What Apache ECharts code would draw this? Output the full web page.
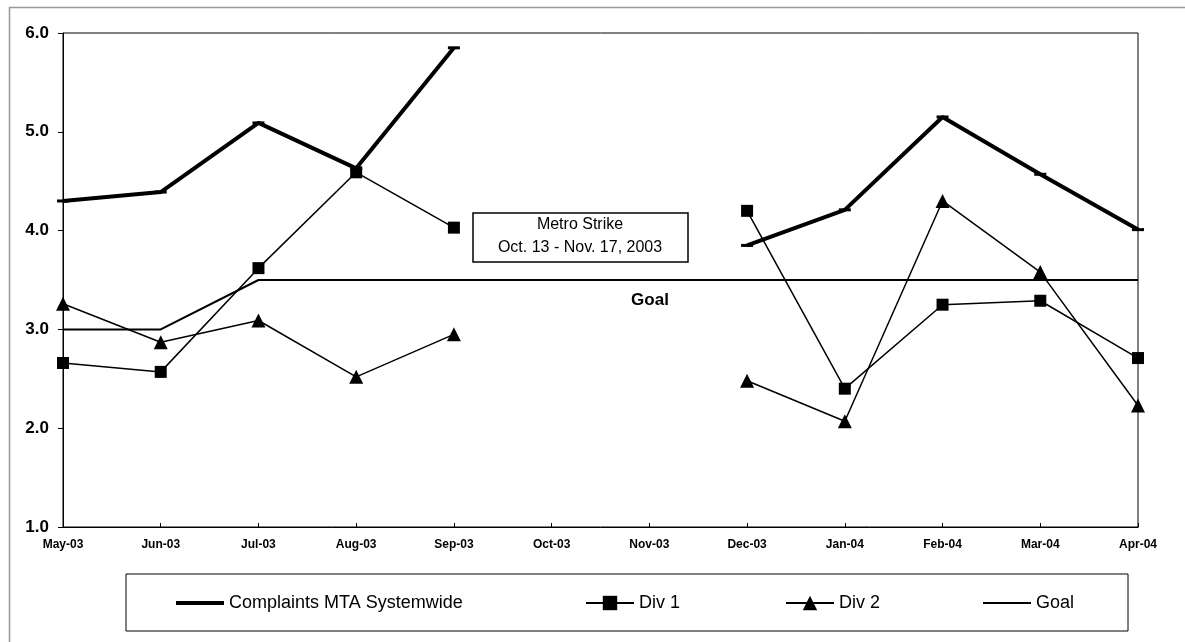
<!DOCTYPE html>
<html>
<head>
<meta charset="utf-8">
<script src="https://cdn.jsdelivr.net/npm/echarts@6/dist/echarts.min.js"></script>
<style>
html,body{margin:0;padding:0;background:#fff;}
#c{width:1185px;height:642px;}
</style>
</head>
<body>
<div id="c"></div>
<script>
const categories = ['May-03','Jun-03','Jul-03','Aug-03','Sep-03','Oct-03','Nov-03','Dec-03','Jan-04','Feb-04','Mar-04','Apr-04'];
const complaints = [4.30, 4.39, 5.09, 4.63, 5.85, null, null, 3.85, 4.21, 5.15, 4.57, 4.01];
const div1 = [2.66, 2.57, 3.62, 4.59, 4.03, null, null, 4.20, 2.40, 3.25, 3.29, 2.71];
const div2 = [3.26, 2.87, 3.09, 2.52, 2.95, null, null, 2.48, 2.07, 4.30, 3.58, 2.23];
const goal = [3.0, 3.0, 3.5, 3.5, 3.5, 3.5, 3.5, 3.5, 3.5, 3.5, 3.5, 3.5];
const yTicks = [1, 2, 3, 4, 5, 6];
const names = ['Complaints MTA Systemwide', 'Div 1', 'Div 2', 'Goal'];

const chart = echarts.init(document.getElementById('c'), null, {renderer: 'canvas'});
const ff = 'Liberation Sans, Arial, sans-serif';
const legendText = {fontFamily: ff, fontSize: 18, color: '#000'};
const legendCfg = [
  {left: 176, icon: 'rect', itemHeight: 4},
  {left: 585, itemHeight: 18},
  {left: 785, itemHeight: 18},
  {left: 983, icon: 'rect', itemHeight: 2}
];
const option = {
  backgroundColor: '#fff',
  animation: false,
  grid: {left: 63, right: 47, top: 33, bottom: 115, show: true, borderColor: '#000', borderWidth: 1, backgroundColor: 'transparent'},
  xAxis: {
    type: 'category', data: categories, boundaryGap: false,
    axisLine: {lineStyle: {color: '#000', width: 1}},
    axisTick: {show: true, inside: true, length: 4, lineStyle: {color: '#000'}},
    axisLabel: {fontFamily: ff, fontSize: 12, fontWeight: 'bold', color: '#000', margin: 12, interval: 0}
  },
  yAxis: {
    type: 'value', min: 1, max: 6, interval: 1,
    axisLine: {show: true, lineStyle: {color: '#000', width: 1}},
    axisTick: {show: true, length: 5, lineStyle: {color: '#000'}},
    splitLine: {show: false},
    axisLabel: {fontFamily: ff, fontSize: 17, fontWeight: 'bold', color: '#000', margin: 14,
      formatter: v => yTicks.includes(v) ? v.toFixed(1) : ''}
  },
  legend: names.map((n, i) => Object.assign({
    data: [n], top: 594, itemWidth: 48, itemGap: 0,
    textStyle: legendText, padding: 0, selectedMode: false, itemStyle: {color: '#000'}
  }, legendCfg[i])),
  series: [
    {name: names[0], type: 'line', data: complaints, connectNulls: false,
      lineStyle: {color: '#000', width: 4}, itemStyle: {color: '#000'},
      symbol: 'rect', symbolSize: [12, 3], z: 5},
    {name: names[1], type: 'line', data: div1, connectNulls: false,
      lineStyle: {color: '#000', width: 1.5}, itemStyle: {color: '#000'},
      symbol: 'rect', symbolSize: 12, z: 4},
    {name: names[2], type: 'line', data: div2, connectNulls: false,
      lineStyle: {color: '#000', width: 1.5}, itemStyle: {color: '#000'},
      symbol: 'triangle', symbolSize: 14, z: 4},
    {name: names[3], type: 'line', data: goal,
      lineStyle: {color: '#000', width: 2}, itemStyle: {color: '#000'},
      symbol: 'none', z: 3}
  ],
  graphic: [
    {type: 'rect', left: 7, top: 5, shape: {x: 0, y: 0, width: 1200, height: 660},
      style: {fill: 'none', stroke: '#999', lineWidth: 1.5}, silent: true},
    {type: 'rect', shape: {x: 126, y: 574, width: 1002, height: 57},
      style: {fill: 'none', stroke: '#000', lineWidth: 1}, silent: true},
    {type: 'rect', shape: {x: 473, y: 213, width: 215, height: 49},
      style: {fill: '#fff', stroke: '#000', lineWidth: 1.5}, z: 100},
    {type: 'text', x: 580, y: 225, z: 101,
      style: {text: 'Metro Strike', fontFamily: ff, fontSize: 16, fill: '#000', align: 'center', verticalAlign: 'middle'}},
    {type: 'text', x: 580, y: 248, z: 101,
      style: {text: 'Oct. 13 - Nov. 17, 2003', fontFamily: ff, fontSize: 16, fill: '#000', align: 'center', verticalAlign: 'middle'}},
    {type: 'text', x: 650, y: 300, z: 101,
      style: {text: 'Goal', fontFamily: ff, fontSize: 17, fontWeight: 'bold', fill: '#000', align: 'center', verticalAlign: 'middle'}}
  ]
};
chart.setOption(option);
</script>
</body>
</html>
